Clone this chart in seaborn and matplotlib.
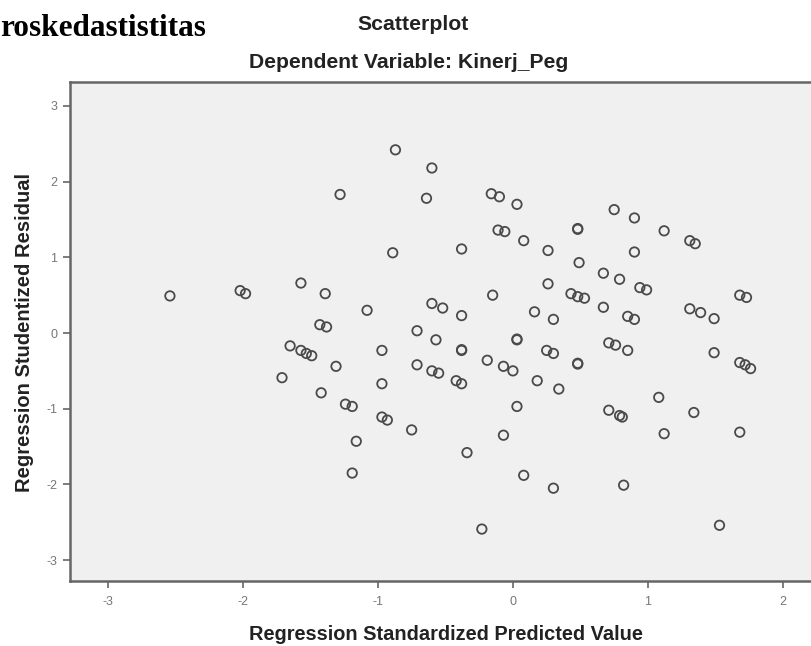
import pandas as pd
import seaborn as sns
import matplotlib.pyplot as plt

# valores (predicho estandarizado, residuo studentizado)
pred = [-0.87, -0.60, -1.28, -0.64, -0.89, -2.54, -2.02, -1.98, -1.57, -1.39,
        -1.08, -0.60, -0.52, -1.43, -1.38, -0.71, -0.16, -0.10, 0.03, 0.75,
        0.90, 0.48, 0.48, -0.11, -0.06, 1.12, 1.31, 1.35, -0.38, 0.08,
        0.26, 0.90, 0.49, 0.67, 0.79, 0.94, 0.99, 0.26, -0.15, 0.43,
        0.48, 0.53, 1.68, 1.73, -0.38, 0.16, 0.30, 0.67, 0.85, 0.90,
        1.31, 1.39, 1.49, -0.57, -1.65, -1.57, -1.53, -1.49, -0.97, -1.31,
        -0.71, -0.60, -0.55, -1.71, -0.97, -1.42, -1.24, -1.19, -0.97, -0.93,
        -0.75, -1.16, -1.19, -0.38, -0.38, 0.03, 0.03, -0.19, -0.07, 0.00,
        0.25, 0.30, 0.48, 0.48, 0.71, 0.76, 0.85, 1.49, 1.68, 1.72,
        1.76, -0.42, -0.38, 0.18, 0.34, 0.03, 1.08, 0.71, 0.79, 0.81,
        1.34, -0.07, 1.12, 1.68, -0.34, 0.08, 0.30, 0.82, -0.23, 1.53]
resid = [2.42, 2.18, 1.83, 1.78, 1.06, 0.49, 0.56, 0.52, 0.66, 0.52,
         0.30, 0.39, 0.33, 0.11, 0.08, 0.03, 1.84, 1.80, 1.70, 1.63,
         1.52, 1.37, 1.38, 1.36, 1.34, 1.35, 1.22, 1.18, 1.11, 1.22,
         1.09, 1.07, 0.93, 0.79, 0.71, 0.60, 0.57, 0.65, 0.50, 0.52,
         0.48, 0.46, 0.50, 0.47, 0.23, 0.28, 0.18, 0.34, 0.22, 0.18,
         0.32, 0.27, 0.19, -0.09, -0.17, -0.23, -0.27, -0.30, -0.23, -0.44,
         -0.42, -0.50, -0.53, -0.59, -0.67, -0.79, -0.94, -0.97, -1.11, -1.15,
         -1.28, -1.43, -1.85, -0.22, -0.23, -0.08, -0.09, -0.36, -0.44, -0.50,
         -0.23, -0.27, -0.40, -0.41, -0.13, -0.16, -0.23, -0.26, -0.39, -0.42,
         -0.47, -0.63, -0.67, -0.63, -0.74, -0.97, -0.85, -1.02, -1.09, -1.11,
         -1.05, -1.35, -1.33, -1.31, -1.58, -1.88, -2.05, -2.01, -2.59, -2.54]

x_ticks = [-3, -2, -1, 0, 1, 2]
y_ticks = [-3, -2, -1, 0, 1, 2, 3]

df = pd.DataFrame({'pred': pred, 'resid': resid})

sns.set_style('white')
plt.rcParams['font.family'] = ['Liberation Sans', 'DejaVu Sans']
plt.rcParams['axes.unicode_minus'] = False

fig = plt.figure(figsize=(8.12, 6.46), dpi=100)
ax = fig.add_axes([70 / 812, 1 - 581 / 646, 1 - 70 / 812, (581 - 82) / 646])
ax.set_facecolor('#f0f0f0')

sns.scatterplot(data=df, x='pred', y='resid', ax=ax, marker='o', s=46,
                facecolor='none', edgecolor='#4a4a4a', linewidth=1.3)

ax.set_xlim(-3.28, 2.215)
ax.set_ylim(-3.276, 3.316)
ax.set_xticks(x_ticks)
ax.set_yticks(y_ticks)
ax.tick_params(axis='both', direction='out', length=5, width=1.2, color='#666666',
               labelsize=9, labelcolor='#777777', bottom=True, left=True)
ax.tick_params(axis='x', pad=6)
ax.tick_params(axis='y', pad=4)

for lado in ['left', 'bottom', 'top']:
    ax.spines[lado].set_color('#666666')
    ax.spines[lado].set_linewidth(1.8)
ax.spines['right'].set_visible(False)

ax.set_xlabel('Regression Standardized Predicted Value', fontsize=14.4,
              fontweight='bold', color='#222222')
ax.set_ylabel('Regression Studentized Residual', fontsize=14.5,
              fontweight='bold', color='#222222')
ax.xaxis.set_label_coords((446 - 70) / 742, -(635 - 581) / 499)
ax.yaxis.set_label_coords(-(70 - 25) / 742, (581 - 333) / 499)
ax.xaxis.label.set_va('center')
ax.yaxis.label.set_va('center')

fig.text(413 / 812, 1 - 25 / 646, 'Scatterplot', ha='center', va='center',
         fontsize=15.3, fontweight='bold', color='#222222')
fig.text(409 / 812, 1 - 62 / 646, 'Dependent Variable: Kinerj_Peg', ha='center',
         va='center', fontsize=15.2, fontweight='bold', color='#222222')
fig.text(0.0, 1 - 28 / 646, 'roskedastistitas', ha='left', va='center',
         fontsize=22.5, fontweight='bold', family=['Liberation Serif', 'DejaVu Serif'],
         color='black')

fig.savefig('out.png', dpi=100, facecolor='white')
